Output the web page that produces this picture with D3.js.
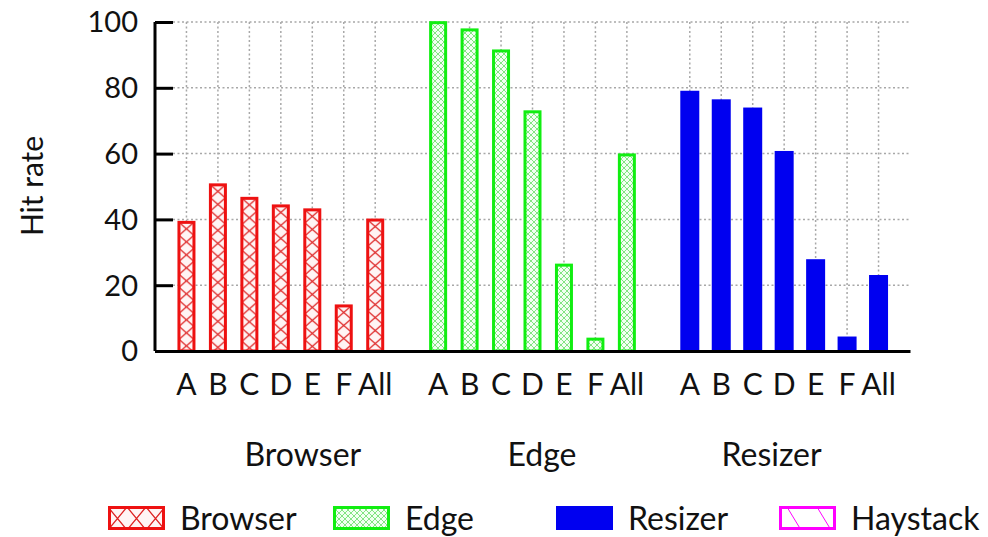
<!DOCTYPE html>
<html><head><meta charset="utf-8">
<script src="https://cdn.jsdelivr.net/npm/d3@7"></script>
<style>body{margin:0;background:#fff}svg{display:block}text{font-family:Lato,"Open Sans",sans-serif;font-weight:400;fill:#111}</style>
</head><body>
<svg id="chart" width="988" height="537"></svg>
<script>
const groups = ["Browser", "Edge", "Resizer"];
const categories = ["A", "B", "C", "D", "E", "F", "All"];
const browserValues = [39.1, 50.5, 46.4, 44.1, 42.9, 13.7, 39.8];
const edgeValues = [99.8, 97.6, 91.2, 72.7, 26.1, 3.6, 59.6];
const resizerValues = [79.1, 76.5, 74.0, 60.8, 27.9, 4.4, 23.1];
const yTicks = [0, 20, 40, 60, 80, 100];
const legendLabels = ["Browser", "Edge", "Resizer", "Haystack"];
const yLabel = "Hit rate";

const svg = d3.select("#chart");
const x = d3.scaleLinear().domain([-1, 23]).range([155, 910]);
const y = d3.scaleLinear().domain([0, 100]).range([351, 22]);
const seriesValues = [browserValues, edgeValues, resizerValues];
const slot = (g, c) => g * 8 + c;

const defs = svg.append("defs");
// Edge dense crosshatch
const pe = defs.append("pattern").attr("id", "edgeHatch").attr("patternUnits", "userSpaceOnUse")
  .attr("width", 6).attr("height", 6);
pe.append("rect").attr("width", 6).attr("height", 6).attr("fill", "#f2fff2");
pe.append("path").attr("d", "M0,0L6,6M6,0L0,6").attr("stroke", "#66dd66").attr("stroke-width", 0.8);
// Haystack
const ph = defs.append("pattern").attr("id", "hayHatch").attr("patternUnits", "userSpaceOnUse")
  .attr("width", 30).attr("height", 23).attr("x", 779).attr("y", 507);
ph.append("rect").attr("width", 30).attr("height", 23).attr("fill", "#fff");
ph.append("path").attr("d", "M8,0L22,23").attr("stroke", "#ff00ff").attr("stroke-width", 1);

function browserPattern(id, x0, y0, w, h) {
  const p = defs.append("pattern").attr("id", id).attr("patternUnits", "userSpaceOnUse")
    .attr("x", x0).attr("y", y0).attr("width", w).attr("height", h);
  p.append("rect").attr("width", w).attr("height", h).attr("fill", "#fff4f4");
  p.append("path").attr("d", `M0,0L${w},${h}M${w},0L0,${h}`).attr("stroke", "#dd2020").attr("stroke-width", 1.3);
}

// grid
const grid = svg.append("g");
grid.selectAll(".hg").data(yTicks.filter(d => d > 0)).join("line")
  .attr("x1", 173).attr("x2", x(23)).attr("y1", d => y(d)).attr("y2", d => y(d))
  .attr("stroke", "#a8a8a8").attr("stroke-width", 1.5).attr("stroke-dasharray", "2,2.5");
const allSlots = [];
groups.forEach((g, gi) => categories.forEach((c, ci) => allSlots.push(slot(gi, ci))));
grid.selectAll(".vg").data(allSlots).join("line")
  .attr("x1", d => x(d)).attr("x2", d => x(d)).attr("y1", y(100)).attr("y2", y(0))
  .attr("stroke", "#a8a8a8").attr("stroke-width", 1.5).attr("stroke-dasharray", "2,2.5");

// bars
const bars = svg.append("g");
const stroke = ["#ee1111", "#11ee11", null];
seriesValues.forEach((vals, gi) => {
  vals.forEach((v, ci) => {
    const cx = x(slot(gi, ci));
    if (gi === 2) {
      bars.append("rect").attr("x", cx - 9.5).attr("width", 19)
        .attr("y", y(v)).attr("height", y(0) - y(v)).attr("fill", "#0000f0");
    } else {
      let fill = "url(#edgeHatch)";
      if (gi === 0) {
        const id = "bh" + ci;
        browserPattern(id, cx - 7.5, y(v), 15, 13);
        fill = `url(#${id})`;
      }
      bars.append("rect").attr("x", cx - 7.5).attr("width", 15)
        .attr("y", y(v)).attr("height", y(0) - y(v)).attr("fill", fill)
        .attr("stroke", stroke[gi]).attr("stroke-width", 3);
    }
  });
});

// axes
const yAxis = svg.append("g").attr("transform", `translate(${x(-1)},0)`)
  .call(d3.axisRight(y).tickValues(yTicks).tickSize(18).tickFormat(""));
yAxis.select(".domain").attr("stroke", "#000").attr("stroke-width", 3).attr("d", `M0,${y(100)}V${y(0)}`);
yAxis.selectAll(".tick line").attr("stroke", "#000").attr("stroke-width", 3);
svg.append("g").selectAll("text").data(yTicks).join("text")
  .attr("x", 138).attr("y", d => y(d)).attr("dy", "0.36em").attr("text-anchor", "end")
  .attr("font-size", 29).text(d => d);

const xAxis = svg.append("g").attr("transform", `translate(0,${y(0)})`)
  .call(d3.axisBottom(x).tickValues([]).tickSizeOuter(0));
xAxis.select(".domain").attr("stroke", "#000").attr("stroke-width", 3);

// category labels
const catData = [];
groups.forEach((g, gi) => categories.forEach((c, ci) => catData.push({ s: slot(gi, ci), c })));
svg.append("g").selectAll("text").data(catData).join("text")
  .attr("x", d => x(d.s)).attr("y", 395).attr("text-anchor", "middle")
  .attr("font-size", 30).text(d => d.c);

// group labels
const groupPos = [3.7, 11.3, 18.6];
svg.append("g").selectAll("text").data(groups).join("text")
  .attr("x", (d, i) => x(groupPos[i])).attr("y", 466).attr("text-anchor", "middle")
  .attr("font-size", 32).text(d => d);

// y label
svg.append("text").attr("transform", "translate(43,186) rotate(-90)")
  .attr("text-anchor", "middle").attr("font-size", 30).text(yLabel);

// legend
const legX = [108, 333, 556, 779];
const legFill = [null, "url(#edgeHatch)", "#0000f0", "url(#hayHatch)"];
const legStroke = ["#ee1111", "#11ee11", "#0000f0", "#ff00ff"];
browserPattern("legB", 108, 507, 19, 23);
legFill[0] = "url(#legB)";
const leg = svg.append("g");
legendLabels.forEach((l, i) => {
  leg.append("rect").attr("x", legX[i] + 1.5).attr("y", 507.5).attr("width", 54).attr("height", 21)
    .attr("fill", legFill[i]).attr("stroke", legStroke[i]).attr("stroke-width", 3);
  leg.append("text").attr("x", legX[i] + 72).attr("y", 530).attr("font-size", 32).text(l);
});
</script>
</body></html>
